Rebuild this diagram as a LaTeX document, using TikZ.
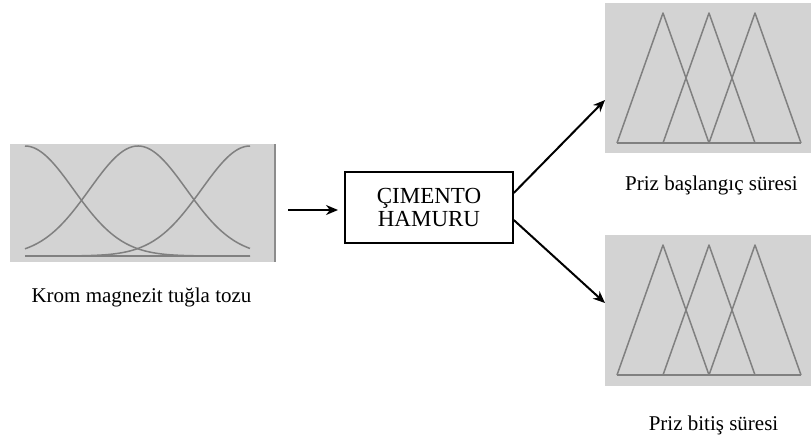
\documentclass[tikz,border=0pt]{standalone}
\usepackage{fontspec}
\setmainfont{Liberation Serif}
\usetikzlibrary{arrows.meta}

\definecolor{panelgrey}{HTML}{D3D3D3}
\definecolor{curvegrey}{HTML}{808080}

\tikzset{
  panel/.style={fill=panelgrey, draw=none, inner sep=0pt, outer sep=0pt},
  mf/.style={draw=curvegrey, line width=1.5pt, line join=round},
  label/.style={anchor=base, inner sep=0pt, font=\fontsize{21}{24}\selectfont},
  flow/.style={draw=black, line width=2pt, -{Stealth[length=12pt, width=10pt]}},
  procbox/.style={draw=black, line width=1.5pt, fill=white, minimum width=168pt,
    minimum height=71pt, inner sep=0pt, align=center,
    font=\fontsize{23}{23}\selectfont}
}

\begin{document}
\begin{tikzpicture}[x=1pt, y=-1pt]
\useasboundingbox (0,0) rectangle (811,445);

% input panel with three Gaussian membership functions
\node[panel, minimum width=265pt, minimum height=118pt] (inpanel) at (142.5,203) {};
\draw[draw=gray!90, line width=1.2pt] (inpanel.north east) -- (inpanel.south east);
\draw[mf] (25,256) -- (250,256);
\draw[mf] plot[domain=25:250, samples=120, smooth]
  (\x, {256-110*exp(-((\x-25)/48.4)*((\x-25)/48.4)/2)});
\draw[mf] plot[domain=25:250, samples=120, smooth]
  (\x, {256-110*exp(-((\x-138)/48.4)*((\x-138)/48.4)/2)});
\draw[mf] plot[domain=25:250, samples=120, smooth]
  (\x, {256-110*exp(-((\x-250)/48.4)*((\x-250)/48.4)/2)});
\node[label] (inlabel) at (141.5,302) {Krom magnezit tuğla tozu};

% output panel: setting start time
\node[panel, minimum width=206pt, minimum height=150pt] (outtop) at (708,78) {};
\draw[mf] (617,143) -- (801,143);
\draw[mf] (617,143) -- (663,13) -- (709,143);
\draw[mf] (663,143) -- (709,13) -- (755,143);
\draw[mf] (709,143) -- (755,13) -- (801,143);
\node[label] (toplabel) at (711.5,190) {Priz başlangıç süresi};

% output panel: setting end time
\node[panel, minimum width=206pt, minimum height=151pt] (outbot) at (708,310.5) {};
\draw[mf] (617,375) -- (801,375);
\draw[mf] (617,375) -- (663,245) -- (709,375);
\draw[mf] (663,375) -- (709,245) -- (755,375);
\draw[mf] (709,375) -- (755,245) -- (801,375);
\node[label] (botlabel) at (713.5,430) {Priz bitiş süresi};

% process box
\node[procbox] (proc) at (429,207.5) {ÇIMENTO\\HAMURU};

% connectors
\coordinate (instart) at (288,210);
\coordinate (inend) at (338,210);
\draw[flow] (instart) -- (inend);
\draw[flow] ([yshift=14.5pt]proc.east) -- ([yshift=-22pt]outtop.west);
\draw[flow] ([yshift=-12.5pt]proc.east) -- ([yshift=7.5pt]outbot.west);
\end{tikzpicture}
\end{document}
